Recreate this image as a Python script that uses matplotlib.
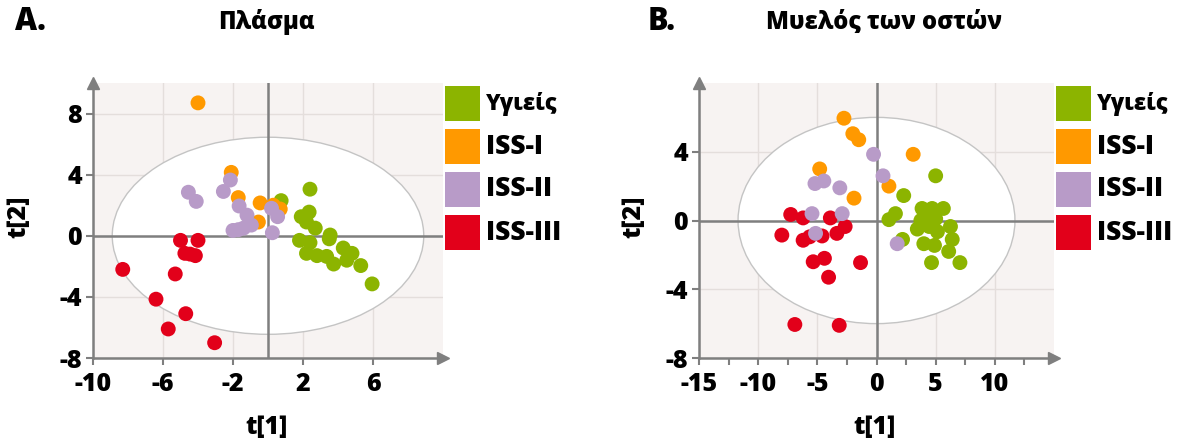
import numpy as np
import matplotlib.pyplot as plt
from matplotlib.patches import Ellipse, Rectangle

plt.rcParams['font.family'] = ['Open Sans', 'DejaVu Sans']
plt.rcParams['font.weight'] = 800
plt.rcParams['axes.unicode_minus'] = False

groups = ['Υγιείς', 'ISS-I', 'ISS-II', 'ISS-III']
colors = ['#8cb400', '#ff9900', '#b89bc8', '#e2001a']

# Panel A - plasma
a_healthy_x = [0.75, 2.4, 2.35, 1.9, 2.2, 2.7, 3.55, 3.5, 1.8, 2.4, 2.2, 2.8, 3.35, 3.75, 4.3, 4.8, 4.5, 5.3, 5.95]
a_healthy_y = [2.3, 3.05, 1.55, 1.25, 0.9, 0.5, 0.05, -0.2, -0.3, -0.45, -1.15, -1.3, -1.35, -1.85, -0.8, -1.15, -1.6, -1.95, -3.15]
a_iss1_x = [-4.0, -2.1, -1.7, -0.45, -0.55, 0.3, 0.7]
a_iss1_y = [8.7, 4.15, 2.5, 2.15, 0.9, 2.0, 1.75]
a_iss2_x = [-4.55, -4.1, -2.55, -2.15, -1.65, -1.2, -2.0, -1.4, -0.95, 0.2, 0.55, 0.25, -1.7]
a_iss2_y = [2.85, 2.25, 2.9, 3.65, 1.95, 1.35, 0.35, 0.5, 0.7, 1.8, 1.25, 0.2, 0.4]
a_iss3_x = [-5.0, -4.0, -4.75, -4.15, -4.45, -8.3, -5.3, -6.4, -4.7, -5.7, -3.05]
a_iss3_y = [-0.3, -0.3, -1.15, -1.3, -1.2, -2.2, -2.5, -4.15, -5.1, -6.1, -7.0]

# Panel B - bone marrow
b_healthy_x = [2.3, 5.0, 1.05, 1.6, 2.2, 3.85, 4.7, 5.65, 4.3, 5.0, 3.45, 4.45, 5.15, 6.25, 6.4, 4.0, 4.9, 6.1, 4.65, 7.05, 3.75, 4.6]
b_healthy_y = [1.45, 2.6, 0.05, 0.4, -1.1, 0.7, 0.7, 0.7, 0.2, 0.1, -0.5, -0.35, -0.65, -0.35, -1.1, -1.35, -1.45, -1.8, -2.45, -2.45, 0.0, 0.3]
b_iss1_x = [-2.75, -2.0, -1.5, -4.8, -1.9, 1.05, 3.1]
b_iss1_y = [5.95, 5.05, 4.7, 3.0, 1.3, 2.0, 3.85]
b_iss2_x = [-0.25, 0.55, -5.2, -4.45, -3.1, -5.45, -2.9, -5.15, 1.75]
b_iss2_y = [3.85, 2.6, 2.15, 2.3, 1.9, 0.4, 0.4, -0.75, -1.35]
b_iss3_x = [-7.25, -6.2, -8.0, -6.2, -5.65, -4.6, -3.9, -3.35, -2.65, -5.35, -4.4, -4.05, -1.35, -6.9, -3.15]
b_iss3_y = [0.35, 0.15, -0.85, -1.15, -0.95, -0.9, 0.15, -0.75, -0.35, -2.4, -2.2, -3.3, -2.45, -6.05, -6.1]

W, H = 1185, 445
fig = plt.figure(figsize=(W / 100, H / 100), dpi=100)
gray = '#7f7f7f'


def px_rect(x0, y0, x1, y1):
    return [x0 / W, 1 - y1 / H, (x1 - x0) / W, (y1 - y0) / H]


def setup(ax, xlim, ylim, xticks, yticks, ell_w, ell_h, minor=None):
    ax.set_facecolor('#f7f3f2')
    ax.set_xlim(xlim)
    ax.set_ylim(ylim)
    ax.set_xticks(xticks)
    ax.set_yticks(yticks)
    if minor is not None:
        ax.set_xticks(minor, minor=True)
    ax.grid(True, color='#e4dedc', lw=1, zorder=0)
    ax.set_axisbelow(True)
    ax.add_patch(Ellipse((0, 0), ell_w, ell_h, facecolor='white', edgecolor='#c4c4c4', lw=1, zorder=1))
    ax.axhline(0, color=gray, lw=1.8, zorder=1.5)
    ax.axvline(0, color=gray, lw=1.8, zorder=1.5)
    for s in ['top', 'right']:
        ax.spines[s].set_visible(False)
    for s in ['left', 'bottom']:
        ax.spines[s].set_color(gray)
        ax.spines[s].set_linewidth(1.8)
    ax.plot(1, 0, '>', color=gray, ms=9, transform=ax.transAxes, clip_on=False)
    ax.plot(0, 1, '^', color=gray, ms=9, transform=ax.transAxes, clip_on=False)
    ax.tick_params(which='both', direction='out', length=5, width=1.5, color=gray, labelsize=18)
    ax.tick_params(axis='x', pad=5)
    ax.tick_params(axis='y', pad=3)
    for lab in ax.get_xticklabels() + ax.get_yticklabels():
        lab.set_fontweight(800)


axA = fig.add_axes(px_rect(93, 83, 443, 358))
setup(axA, (-10, 10), (-8, 10), [-10, -6, -2, 2, 6], [-8, -4, 0, 4, 8], 17.8, 12.9)
a_sets = [(a_iss3_x, a_iss3_y, 3), (a_healthy_x, a_healthy_y, 0), (a_iss1_x, a_iss1_y, 1), (a_iss2_x, a_iss2_y, 2)]
for xs, ys, i in a_sets:
    axA.scatter(xs, ys, s=115, color=colors[i], edgecolors='none', zorder=3)

axB = fig.add_axes(px_rect(699, 83, 1054, 358))
setup(axB, (-15, 15), (-8, 8), [-15, -10, -5, 0, 5, 10], [-8, -4, 0, 4], 23.4, 12.0,
      minor=[-12.5, -7.5, -2.5, 2.5, 7.5, 12.5])
b_sets = [(b_iss3_x, b_iss3_y, 3), (b_iss1_x, b_iss1_y, 1), (b_healthy_x, b_healthy_y, 0), (b_iss2_x, b_iss2_y, 2)]
for xs, ys, i in b_sets:
    axB.scatter(xs, ys, s=115, color=colors[i], edgecolors='none', zorder=3)

# titles, panel letters, axis labels
def ftext(x, y, s, **kw):
    fig.text(x / W, 1 - y / H, s, fontweight=800, **kw)

ftext(15, 22, 'A.', fontsize=22, ha='left', va='center')
ftext(266, 22, 'Πλάσμα', fontsize=17, ha='center', va='center')
ftext(648, 22, 'B.', fontsize=22, ha='left', va='center')
ftext(884, 22, 'Μυελός των οστών', fontsize=17, ha='center', va='center')

ftext(266, 428, 't[1]', fontsize=18, ha='center', va='center')
ftext(875, 428, 't[1]', fontsize=18, ha='center', va='center')
ftext(19, 217, 't[2]', fontsize=18, ha='center', va='center', rotation=90)
ftext(634, 217, 't[2]', fontsize=18, ha='center', va='center', rotation=90)

# legends
for lx, tx in [(445, 486), (1056, 1097)]:
    for i, g in enumerate(groups):
        y0 = 86 + i * 43
        fig.patches.append(Rectangle((lx / W, 1 - (y0 + 35) / H), 35 / W, 35 / H,
                                     facecolor=colors[i], edgecolor='none', transform=fig.transFigure))
        ftext(tx, y0 + 17.5, g, fontsize=16 if i == 0 else 19, ha='left', va='center')

fig.savefig('out.png', dpi=100)
